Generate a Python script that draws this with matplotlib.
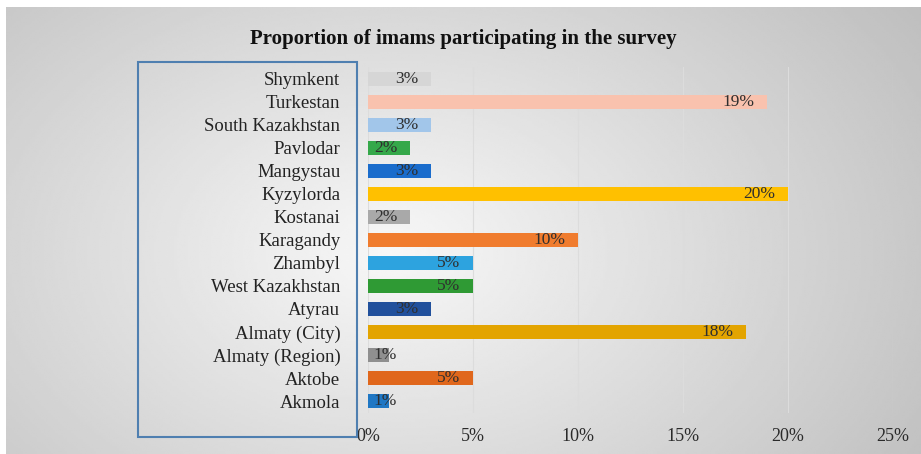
import numpy as np
import matplotlib.pyplot as plt
from matplotlib.patches import Rectangle

# Data (bottom to top as drawn)
regions = ['Akmola', 'Aktobe', 'Almaty (Region)', 'Almaty (City)', 'Atyrau',
           'West Kazakhstan', 'Zhambyl', 'Karagandy', 'Kostanai', 'Kyzylorda',
           'Mangystau', 'Pavlodar', 'South Kazakhstan', 'Turkestan', 'Shymkent']
share = [1, 5, 1, 18, 3, 5, 5, 10, 2, 20, 3, 2, 3, 19, 3]
colors = ['#1f77c4', '#e0671c', '#8f8f8f', '#e3a400', '#21509c',
          '#2f9a34', '#2da3df', '#f07c2e', '#a9a9a9', '#ffc000',
          '#1a6ccc', '#35a84a', '#a2c6ea', '#f9c2ae', '#d6d6d6']

plt.rcParams['font.family'] = ['Liberation Serif', 'DejaVu Serif']

fig = plt.figure(figsize=(9.21, 4.54), dpi=100)
fig.patch.set_facecolor('white')

# gradient background panel
bg = fig.add_axes([0.006, 0, 0.994, 0.985])
bg.set_axis_off()
yy, xx = np.mgrid[0:1:200j, 0:1:400j]
r = np.sqrt(((xx - 0.42) / 1.0) ** 2 + ((yy - 0.55) / 1.4) ** 2)
shade = 0.97 - 0.32 * r
bg.imshow(shade, cmap='gray', vmin=0, vmax=1, aspect='auto',
          extent=[0, 1, 0, 1], interpolation='bilinear')
bg.set_xlim(0, 1)
bg.set_ylim(0, 1)

ax = fig.add_axes([0.3996, 0.0914, 0.570, 0.760])
ax.patch.set_alpha(0)
y = np.arange(len(regions))
ax.barh(y, share, height=0.57, color=colors, zorder=3)
ax.set_xlim(0, 25)
ax.set_ylim(-0.5, len(regions) - 0.5)
ax.set_xticks([0, 5, 10, 15, 20, 25])
ax.set_xticklabels(['0%', '5%', '10%', '15%', '20%', '25%'], fontsize=13, color='#2a2a2a')
ax.set_yticks(y)
ax.set_yticklabels(regions, fontsize=13.5, color='#222222')
ax.tick_params(axis='both', length=0)
ax.tick_params(axis='x', pad=11)
ax.tick_params(axis='y', pad=20)
ax.grid(axis='x', color='#dcdcdc', lw=0.8, zorder=0)
for s in ax.spines.values():
    s.set_visible(False)

for yi, v in zip(y, share):
    xpos = max(v - 0.6, 1.35)
    ax.text(xpos, yi, f'{v}%', ha='right', va='center', fontsize=12.5,
            color='#2f2f2f', zorder=4)

# box around the category labels
fig.patches.append(Rectangle((138 / 921, 1 - 437 / 454), (357 - 138) / 921,
                             (437 - 62) / 454, transform=fig.transFigure,
                             fill=False, edgecolor='#4f7fb0', lw=1.5))

fig.text(0.503, 0.915, 'Proportion of imams participating in the survey',
         ha='center', va='center', fontsize=15, fontweight='bold', color='#111111')

fig.savefig('out.png', dpi=100)
